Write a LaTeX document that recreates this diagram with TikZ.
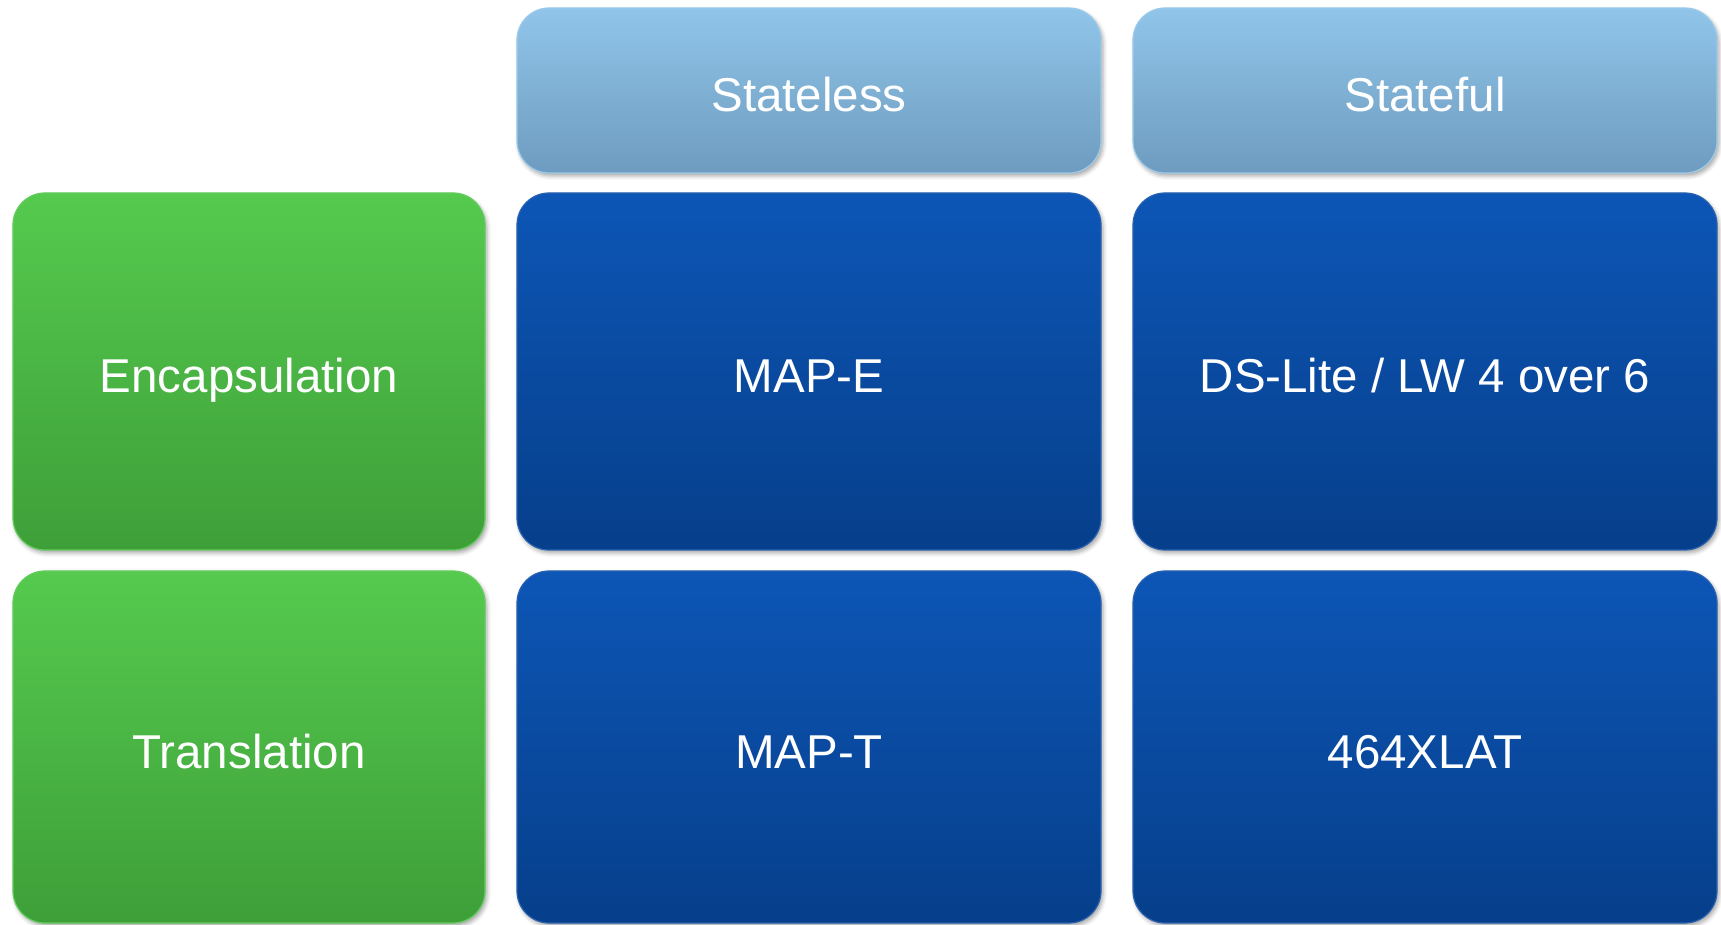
\documentclass[tikz,border=0pt]{standalone}
\usepackage{fontspec}
\setmainfont{Liberation Sans}
\usetikzlibrary{shadows.blur}
\definecolor{hdtop}{HTML}{90C5E9}
\definecolor{hdbot}{HTML}{6E9CC0}
\definecolor{hdline}{HTML}{9CCBEA}
\definecolor{bltop}{HTML}{0D56B6}
\definecolor{blbot}{HTML}{063F8B}
\definecolor{blline}{HTML}{2A62B0}
\definecolor{grtop}{HTML}{55CA4E}
\definecolor{grbot}{HTML}{3E9F39}
\definecolor{grline}{HTML}{62CC5C}
\tikzset{
  x=1pt, y=1pt,
  cell/.style={rounded corners=32pt, line width=1.2pt, text=white,
    font=\fontsize{47.5}{56}\selectfont, inner sep=0pt,
    text height=42pt, text depth=0pt,
    blur shadow={shadow xshift=2pt, shadow yshift=-3pt, shadow blur radius=4pt, shadow opacity=35}},
  header/.style={cell, draw=hdline, top color=hdtop, bottom color=hdbot,
    minimum width=584pt, minimum height=165pt},
  methodbox/.style={cell, draw=grline, top color=grtop, bottom color=grbot,
    minimum width=472pt},
  mapbox/.style={cell, draw=blline, top color=bltop, bottom color=blbot,
    minimum width=584pt},
}
\begin{document}
\begin{tikzpicture}
\useasboundingbox (0,0) rectangle (1721,924);
% column headers
\node[header] (stateless) at (809,833.5) {Stateless};
\node[header] (stateful)  at (1425,833.5) {Stateful};
% row labels
\node[methodbox, minimum height=357pt] (encap) at (249,552.5) {Encapsulation};
\node[methodbox, minimum height=352pt] (trans) at (249,177) {Translation};
% mechanisms
\node[mapbox, minimum height=357pt] (mape)   at (809,552.5) {MAP-E};
\node[mapbox, minimum height=357pt] (dslite) at (1425,552.5) {DS-Lite / LW 4 over 6};
\node[mapbox, minimum height=352pt] (mapt)   at (809,177) {MAP-T};
\node[mapbox, minimum height=352pt] (xlat)   at (1425,177) {464XLAT};
\end{tikzpicture}
\end{document}
